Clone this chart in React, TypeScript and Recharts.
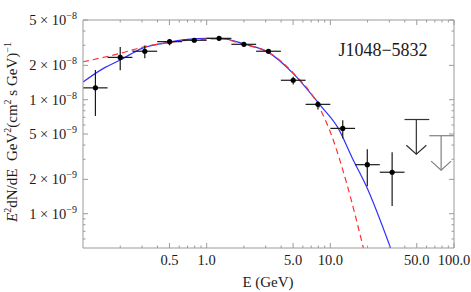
import { ComposedChart, Line, Scatter, ErrorBar, XAxis, YAxis } from "recharts";

const FRAME = "#9a9a9a";
const INK = "#1a1a1a";
const FONT = '"Liberation Serif", "Times New Roman", serif';

const binE = [0.126, 0.2, 0.316, 0.501, 0.794, 1.26, 2.0, 3.16, 5.01, 7.94, 12.6, 19.9, 31.6];
const binLo = [0.1, 0.158, 0.251, 0.398, 0.631, 1.0, 1.585, 2.512, 3.981, 6.31, 10.0, 15.85, 25.12];
const binHi = [0.158, 0.251, 0.398, 0.631, 1.0, 1.585, 2.512, 3.981, 6.31, 10.0, 15.85, 25.12, 39.81];
const flux = [1.27e-8, 2.35e-8, 2.66e-8, 3.23e-8, 3.32e-8, 3.45e-8, 3.06e-8, 2.66e-8, 1.48e-8, 9.1e-9, 5.6e-9, 2.69e-9, 2.31e-9];
const fluxLo = [7.2e-9, 1.81e-8, 2.31e-8, 3.0e-8, 3.2e-8, 3.35e-8, 2.95e-8, 2.55e-8, 1.36e-8, 8.2e-9, 4.6e-9, 1.74e-9, 1.17e-9];
const fluxHi = [1.82e-8, 2.9e-8, 2.98e-8, 3.4e-8, 3.45e-8, 3.58e-8, 3.18e-8, 2.78e-8, 1.59e-8, 9.7e-9, 6.6e-9, 3.67e-9, 3.46e-9];

// upper limits
const ulE = [49.6, 78.7];
const ulLo = [39.81, 63.1];
const ulHi = [63.1, 100];
const ulCap = [6.7e-9, 4.83e-9];
const ulTip = [3.32e-9, 2.41e-9];
const ulColor = ["#333333", "#808080"];

// model curves
const blueE = [0.1, 0.15, 0.2, 0.3, 0.5, 0.7, 1.0, 1.3, 2.0, 3.16, 5.0, 8.24, 11.6, 15.0, 19.6, 30.7];
const blueF = [1.43e-8, 1.91e-8, 2.23e-8, 2.82e-8, 3.2e-8, 3.38e-8, 3.45e-8, 3.45e-8, 3.08e-8, 2.6e-8, 1.7e-8, 9.0e-9, 5.6e-9, 3.1e-9, 1.73e-9, 5.0e-10];
const redE = [0.1, 0.2, 0.3, 0.5, 0.7, 1.0, 1.3, 2.0, 3.16, 5.0, 8.0, 10.56, 13.55, 18.5];
const redF = [2.15e-8, 2.55e-8, 2.88e-8, 3.17e-8, 3.32e-8, 3.4e-8, 3.42e-8, 3.05e-8, 2.6e-8, 1.72e-8, 8.9e-9, 4.43e-9, 1.85e-9, 5.0e-10];

// ticks
const xMajor = [0.5, 1, 5, 10, 50, 100];
const xLabels = ["0.5", "1.0", "5.0", "10.0", "50.0", "100.0"];
const xMinor = [0.2, 0.3, 0.4, 0.6, 0.7, 0.8, 0.9, 2, 3, 4, 6, 7, 8, 9, 20, 30, 40, 60, 70, 80, 90];
const yMajor = [1e-9, 2e-9, 5e-9, 1e-8, 2e-8, 5e-8];
const yMant = ["1", "2", "5", "1", "2", "5"];
const yExp = ["\u22129", "\u22129", "\u22129", "\u22128", "\u22128", "\u22128"];
const yMinor = [6e-10, 7e-10, 8e-10, 9e-10, 3e-9, 4e-9, 6e-9, 7e-9, 8e-9, 9e-9, 3e-8, 4e-8];

const xTicks = [...xMajor, ...xMinor].sort((a, b) => a - b);
const yTicks = [...yMajor, ...yMinor].sort((a, b) => a - b);

const points = binE.map((E, i) => ({
  E,
  F: flux[i],
  ex: [E - binLo[i], binHi[i] - E],
  ey: [flux[i] - fluxLo[i], fluxHi[i] - flux[i]],
}));
const blue = blueE.map((E, i) => ({ E, F: blueF[i] }));
const red = redE.map((E, i) => ({ E, F: redF[i] }));

function BottomTick({ x, y, payload }: any) {
  const i = xMajor.indexOf(payload.value);
  return (
    <g>
      <line x1={x} x2={x} y1={y} y2={y - (i >= 0 ? 5 : 2.5)} stroke={FRAME} />
      {i >= 0 && (
        <text x={x} y={y + 17} textAnchor="middle" fontFamily={FONT} fontSize={14.5} fill={INK}>
          {xLabels[i]}
        </text>
      )}
    </g>
  );
}

function TopTick({ x, y, payload }: any) {
  const major = xMajor.includes(payload.value);
  return <line x1={x} x2={x} y1={y} y2={y + (major ? 5 : 2.5)} stroke={FRAME} />;
}

function LeftTick({ x, y, payload }: any) {
  const i = yMajor.indexOf(payload.value);
  return (
    <g>
      <line x1={x} x2={x + (i >= 0 ? 5 : 2.5)} y1={y} y2={y} stroke={FRAME} />
      {i >= 0 && (
        <text x={x - 6} y={y + 5} textAnchor="end" fontFamily={FONT} fontSize={14.5} fill={INK}>
          {yMant[i]} × 10
          <tspan dy={-6} fontSize={10}>
            {yExp[i]}
          </tspan>
        </text>
      )}
    </g>
  );
}

function RightTick({ x, y, payload }: any) {
  const major = yMajor.includes(payload.value);
  return <line x1={x} x2={x - (major ? 5 : 2.5)} y1={y} y2={y} stroke={FRAME} />;
}

function Dot({ cx, cy }: any) {
  return <circle cx={cx} cy={cy} r={2.6} fill="#000" />;
}

function NoDot() {
  return <g />;
}

function ArrowHead({ cx, cy, color }: any) {
  return (
    <polyline
      points={`${cx - 10},${cy - 9} ${cx},${cy} ${cx + 10},${cy - 9}`}
      fill="none"
      stroke={color}
      strokeWidth={1.2}
    />
  );
}

export default function App() {
  return (
    <div style={{ position: "absolute", left: 0, top: 0, width: 471, height: 292, background: "#fff" }}>
      <ComposedChart width={471} height={292} margin={{ top: 0, right: 0, bottom: 0, left: 0 }}>
        <XAxis
          xAxisId="b"
          dataKey="E"
          type="number"
          scale="log"
          domain={[0.1, 100]}
          allowDataOverflow
          ticks={xTicks}
          interval={0}
          height={44}
          tickSize={0}
          tickMargin={0}
          tickLine={false}
          axisLine={{ stroke: FRAME }}
          tick={(p: any) => <BottomTick {...p} />}
        />
        <XAxis
          xAxisId="t"
          orientation="top"
          dataKey="E"
          type="number"
          scale="log"
          domain={[0.1, 100]}
          allowDataOverflow
          ticks={xTicks}
          interval={0}
          height={20}
          tickSize={0}
          tickMargin={0}
          tickLine={false}
          axisLine={{ stroke: FRAME }}
          tick={(p: any) => <TopTick {...p} />}
        />
        <YAxis
          yAxisId="l"
          dataKey="F"
          type="number"
          scale="log"
          domain={[5e-10, 5e-8]}
          allowDataOverflow
          ticks={yTicks}
          interval={0}
          width={83}
          tickSize={0}
          tickMargin={0}
          tickLine={false}
          axisLine={{ stroke: FRAME }}
          tick={(p: any) => <LeftTick {...p} />}
        />
        <YAxis
          yAxisId="r"
          orientation="right"
          dataKey="F"
          type="number"
          scale="log"
          domain={[5e-10, 5e-8]}
          allowDataOverflow
          ticks={yTicks}
          interval={0}
          width={17}
          tickSize={0}
          tickMargin={0}
          tickLine={false}
          axisLine={{ stroke: FRAME }}
          tick={(p: any) => <RightTick {...p} />}
        />
        <Line
          xAxisId="b"
          yAxisId="l"
          data={blue}
          dataKey="F"
          type="monotone"
          stroke="#2f2fff"
          strokeWidth={1.2}
          dot={false}
          activeDot={false}
          isAnimationActive={false}
        />
        <Line
          xAxisId="b"
          yAxisId="l"
          data={red}
          dataKey="F"
          type="monotone"
          stroke="#ff3030"
          strokeWidth={1.2}
          strokeDasharray="6 4"
          dot={false}
          activeDot={false}
          isAnimationActive={false}
        />
        <Scatter xAxisId="b" yAxisId="l" data={points} dataKey="F" shape={Dot} isAnimationActive={false}>
          <ErrorBar dataKey="ex" direction="x" width={0} stroke={INK} strokeWidth={1.2} isAnimationActive={false} />
          <ErrorBar dataKey="ey" direction="y" width={0} stroke={INK} strokeWidth={1.2} isAnimationActive={false} />
        </Scatter>
        {ulE.map((E, i) => (
          <Scatter
            key={"ul" + i}
            xAxisId="b"
            yAxisId="l"
            data={[{ E, F: ulCap[i], ex: [E - ulLo[i], ulHi[i] - E], ey: [ulCap[i] - ulTip[i], 0] }]}
            dataKey="F"
            shape={NoDot}
            isAnimationActive={false}
          >
            <ErrorBar dataKey="ex" direction="x" width={0} stroke={ulColor[i]} strokeWidth={1.2} isAnimationActive={false} />
            <ErrorBar dataKey="ey" direction="y" width={0} stroke={ulColor[i]} strokeWidth={1.2} isAnimationActive={false} />
          </Scatter>
        ))}
        {ulE.map((E, i) => (
          <Scatter
            key={"tip" + i}
            xAxisId="b"
            yAxisId="l"
            data={[{ E, F: ulTip[i] }]}
            dataKey="F"
            shape={(p: any) => <ArrowHead {...p} color={ulColor[i]} />}
            isAnimationActive={false}
          />
        ))}
        <text x={383} y={56} textAnchor="middle" fontFamily={FONT} fontSize={18} fill={INK}>
          J1048−5832
        </text>
        <text x={268} y={287} textAnchor="middle" fontFamily={FONT} fontSize={15} fill={INK}>
          E (GeV)
        </text>
        <text transform="translate(17,132) rotate(-90)" textAnchor="middle" fontFamily={FONT} fontSize={15} fill={INK}>
          <tspan fontStyle="italic">E</tspan>
          <tspan dy={-6} fontSize={10}>2</tspan>
          <tspan dy={6}>{"dN/dE\u00a0\u00a0GeV"}</tspan>
          <tspan dy={-6} fontSize={10}>2</tspan>
          <tspan dy={6}>(cm</tspan>
          <tspan dy={-6} fontSize={10}>2</tspan>
          <tspan dy={6}>{"\u00a0s GeV)"}</tspan>
          <tspan dy={-6} fontSize={10}>−1</tspan>
        </text>
      </ComposedChart>
    </div>
  );
}
